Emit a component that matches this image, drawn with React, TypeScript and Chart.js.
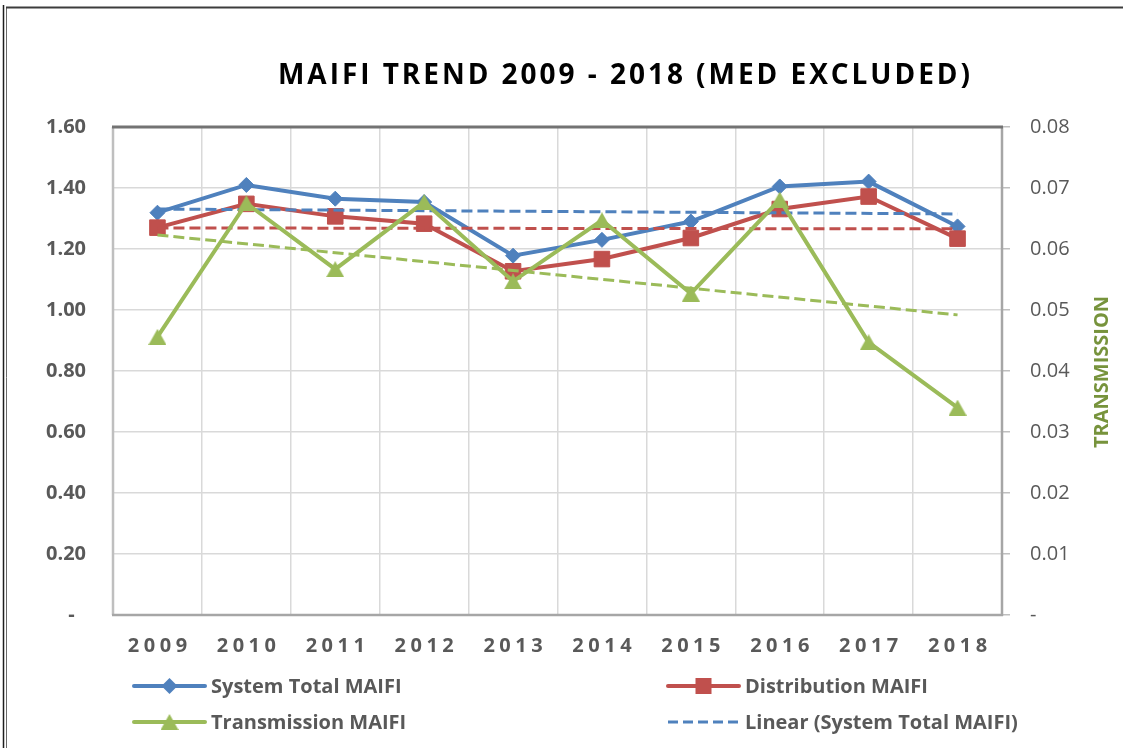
import React, { useEffect, useRef } from 'react';
import { Chart, registerables } from 'chart.js';

Chart.register(...registerables);

// ---------- data ----------
const years = ['2009', '2010', '2011', '2012', '2013', '2014', '2015', '2016', '2017', '2018'];
const systemTotalMaifi = [1.319, 1.41, 1.365, 1.354, 1.178, 1.23, 1.29, 1.405, 1.421, 1.274];
const distributionMaifi = [1.27, 1.348, 1.307, 1.283, 1.127, 1.167, 1.236, 1.331, 1.372, 1.234];
const transmissionMaifi = [0.0456, 0.0675, 0.0567, 0.0677, 0.0547, 0.0647, 0.0527, 0.0681, 0.0447, 0.034];
// linear trend lines (end points)
const systemTotalTrend = [1.331, null, null, null, null, null, null, null, null, 1.315];
const distributionTrend = [1.269, null, null, null, null, null, null, null, null, 1.266];
const transmissionTrend = [0.0623, null, null, null, null, null, null, null, null, 0.0492];

const leftAxisMin = 0;
const leftAxisMax = 1.6;
const leftAxisStep = 0.2;
const rightAxisMin = 0;
const rightAxisMax = 0.08;
const rightAxisStep = 0.01;

const chartTitle = 'MAIFI TREND 2009 - 2018 (MED EXCLUDED)';
const rightAxisTitle = 'TRANSMISSION';
const legendLabels = ['System Total MAIFI', 'Distribution MAIFI', 'Transmission MAIFI', 'Linear (System Total MAIFI)'];

// ---------- styles ----------
const BLUE = '#4F81BD';
const RED = '#C0504D';
const GREEN = '#9BBB59';
const GREEN_DARK = '#77933C';
const TEXT = '#595959';
const GRID = '#d9d9d9';
const FONT = '"Open Sans", Lato, "DejaVu Sans", sans-serif';

const W = 1123;
const H = 748;
const X_LABEL_SPACING = 4.5;

function makeTriangle(color: string, w: number, h: number) {
  const c = document.createElement('canvas');
  c.width = w;
  c.height = h;
  const g = c.getContext('2d')!;
  g.fillStyle = color;
  g.beginPath();
  g.moveTo(w / 2, 0);
  g.lineTo(w, h);
  g.lineTo(0, h);
  g.closePath();
  g.fill();
  return c;
}

export default function App() {
  const ref = useRef<HTMLCanvasElement | null>(null);

  useEffect(() => {
    const canvas = ref.current!;
    const tri = makeTriangle(GREEN, 18, 16);

    const decor = {
      id: 'decor',
      beforeDraw(chart: any) {
        const ctx = chart.ctx as CanvasRenderingContext2D;
        ctx.save();
        ctx.fillStyle = '#ffffff';
        ctx.fillRect(0, 0, chart.width, chart.height);
        // outer frame
        ctx.strokeStyle = '#1e1e1e';
        ctx.lineWidth = 1.5;
        ctx.beginPath();
        ctx.moveTo(3.5, 5);
        ctx.lineTo(3.5, chart.height);
        ctx.stroke();
        ctx.strokeStyle = '#6a6a6a';
        ctx.lineWidth = 1;
        ctx.beginPath();
        ctx.moveTo(6.5, chart.height);
        ctx.lineTo(6.5, 7);
        ctx.stroke();
        ctx.strokeStyle = '#3c3c3c';
        ctx.lineWidth = 2;
        ctx.beginPath();
        ctx.moveTo(6, 7.5);
        ctx.lineTo(chart.width, 7.5);
        ctx.stroke();
        ctx.restore();

        // letter-spaced category labels
        const xs = chart.scales.x as any;
        if (xs && !xs.__spaced) {
          const orig = xs.drawLabels.bind(xs);
          xs.drawLabels = (area: any) => {
            const c = chart.ctx as any;
            c.save();
            c.letterSpacing = `${X_LABEL_SPACING}px`;
            orig(area);
            c.restore();
          };
          xs.__spaced = true;
        }
      },
      beforeDatasetsDraw(chart: any) {
        const ctx = chart.ctx as CanvasRenderingContext2D;
        const a = chart.chartArea;
        ctx.save();
        ctx.lineWidth = 2.5;
        ctx.strokeStyle = '#bfbfbf';
        ctx.beginPath();
        ctx.moveTo(a.left, a.top);
        ctx.lineTo(a.left, a.bottom);
        ctx.stroke();
        ctx.strokeStyle = '#a6a6a6';
        ctx.beginPath();
        ctx.moveTo(a.right, a.top);
        ctx.lineTo(a.right, a.bottom + 1);
        ctx.stroke();
        ctx.beginPath();
        ctx.moveTo(a.left - 1, a.bottom);
        ctx.lineTo(a.right + 1, a.bottom);
        ctx.stroke();
        ctx.strokeStyle = '#737373';
        ctx.lineWidth = 3;
        ctx.beginPath();
        ctx.moveTo(a.left - 1, a.top);
        ctx.lineTo(a.right + 1, a.top);
        ctx.stroke();
        ctx.restore();
      },
      afterDraw(chart: any) {
        const ctx = chart.ctx as any;
        ctx.save();
        // title with letter spacing fitted to its width in the picture
        ctx.font = `bold 28px ${FONT}`;
        ctx.fillStyle = '#000000';
        ctx.textAlign = 'left';
        ctx.textBaseline = 'alphabetic';
        ctx.letterSpacing = '0px';
        const natural = ctx.measureText(chartTitle).width;
        const ls = (692 - natural) / (chartTitle.length - 1);
        ctx.letterSpacing = `${ls}px`;
        ctx.fillText(chartTitle, 278, 84);
        ctx.letterSpacing = '0px';

        // right axis title
        ctx.save();
        ctx.translate(1108, 372);
        ctx.rotate(-Math.PI / 2);
        ctx.font = `bold 20px ${FONT}`;
        ctx.fillStyle = GREEN_DARK;
        ctx.textAlign = 'center';
        ctx.fillText(rightAxisTitle, 0, 0);
        ctx.restore();

        // legend
        const items = [
          { color: BLUE, marker: 'diamond', dash: false, x: 134, y: 686 },
          { color: RED, marker: 'square', dash: false, x: 668, y: 686 },
          { color: GREEN, marker: 'triangle', dash: false, x: 134, y: 722 },
          { color: BLUE, marker: 'none', dash: true, x: 668, y: 722 },
        ];
        items.forEach((it, i) => {
          const x1 = it.x;
          const x2 = it.x + 71;
          ctx.save();
          ctx.strokeStyle = it.color;
          ctx.lineWidth = it.dash ? 3 : 4;
          ctx.lineCap = it.dash ? 'butt' : 'round';
          if (it.dash) ctx.setLineDash([10, 5]);
          ctx.beginPath();
          ctx.moveTo(x1, it.y);
          ctx.lineTo(x2, it.y);
          ctx.stroke();
          ctx.restore();
          const cx = (x1 + x2) / 2;
          ctx.fillStyle = it.color;
          if (it.marker === 'diamond') {
            ctx.beginPath();
            ctx.moveTo(cx - 8, it.y);
            ctx.lineTo(cx, it.y - 8);
            ctx.lineTo(cx + 8, it.y);
            ctx.lineTo(cx, it.y + 8);
            ctx.closePath();
            ctx.fill();
          } else if (it.marker === 'square') {
            ctx.fillRect(cx - 8, it.y - 8, 16, 16);
          } else if (it.marker === 'triangle') {
            ctx.drawImage(tri, cx - tri.width / 2, it.y - tri.height / 2);
          }
          ctx.font = `bold 20px ${FONT}`;
          ctx.fillStyle = TEXT;
          ctx.textAlign = 'left';
          ctx.textBaseline = 'alphabetic';
          ctx.fillText(legendLabels[i], x2 + 6, it.y + 7);
        });
        ctx.restore();
      },
    };

    const chart = new Chart(canvas, {
      type: 'line',
      data: {
        labels: years,
        datasets: [
          {
            label: legendLabels[0],
            data: systemTotalMaifi,
            yAxisID: 'y',
            borderColor: BLUE,
            backgroundColor: BLUE,
            borderWidth: 4,
            pointStyle: 'rectRot',
            pointRadius: 7.5,
            pointBorderWidth: 1,
            pointBackgroundColor: BLUE,
            pointBorderColor: BLUE,
            order: 5,
          },
          {
            label: legendLabels[1],
            data: distributionMaifi,
            yAxisID: 'y',
            borderColor: RED,
            backgroundColor: RED,
            borderWidth: 4,
            pointStyle: 'rect',
            pointRadius: 11,
            pointBorderWidth: 1,
            pointBackgroundColor: RED,
            pointBorderColor: RED,
            order: 4,
          },
          {
            label: legendLabels[2],
            data: transmissionMaifi,
            yAxisID: 'y1',
            borderColor: GREEN,
            backgroundColor: GREEN,
            borderWidth: 4,
            pointStyle: tri as any,
            pointRadius: 9,
            order: 1,
          },
          {
            label: legendLabels[3],
            data: systemTotalTrend,
            yAxisID: 'y',
            borderColor: BLUE,
            borderWidth: 3,
            borderDash: [11, 5],
            pointRadius: 0,
            spanGaps: true,
            order: 2,
          },
          {
            label: 'Linear (Distribution MAIFI)',
            data: distributionTrend,
            yAxisID: 'y',
            borderColor: RED,
            borderWidth: 3,
            borderDash: [11, 5],
            pointRadius: 0,
            spanGaps: true,
            order: 3,
          },
          {
            label: 'Linear (Transmission MAIFI)',
            data: transmissionTrend,
            yAxisID: 'y1',
            borderColor: GREEN,
            borderWidth: 3,
            borderDash: [11, 5],
            pointRadius: 0,
            spanGaps: true,
            order: 0,
          },
        ],
      },
      options: {
        responsive: false,
        animation: false,
        devicePixelRatio: 1,
        layout: { padding: { top: 127, left: 0, right: 0, bottom: 0 } },
        plugins: {
          legend: { display: false },
          title: { display: false },
          tooltip: { enabled: false },
        },
        elements: { line: { tension: 0 } },
        scales: {
          x: {
            type: 'category',
            offset: true,
            grid: { offset: true, color: GRID, lineWidth: 1.5, drawTicks: false },
            border: { display: false },
            ticks: {
              color: TEXT,
              font: { family: FONT, size: 20, weight: 'bold' },
              padding: 19,
              maxRotation: 0,
              autoSkip: false,
              labelOffset: X_LABEL_SPACING / 2,
            },
            afterFit: (s: any) => {
              s.height = H - 615;
            },
          },
          y: {
            position: 'left',
            min: leftAxisMin,
            max: leftAxisMax,
            ticks: {
              stepSize: leftAxisStep,
              color: TEXT,
              font: { family: FONT, size: 20, weight: 'bold' },
              padding: 27,
              callback: (v: any) => (Number(v) === 0 ? '-\u2007' : Number(v).toFixed(2)),
            },
            grid: { color: GRID, lineWidth: 1.5, drawTicks: false },
            border: { display: false },
            afterFit: (s: any) => {
              s.width = 113;
            },
          },
          y1: {
            position: 'right',
            min: rightAxisMin,
            max: rightAxisMax,
            ticks: {
              stepSize: rightAxisStep,
              color: TEXT,
              font: { family: FONT, size: 20, weight: 'normal' },
              padding: 20,
              callback: (v: any) => (Number(v) === 0 ? '-' : Number(v).toFixed(2)),
            },
            grid: { drawOnChartArea: false, color: '#bfbfbf', lineWidth: 1.5, tickLength: 8 },
            border: { display: false },
            afterFit: (s: any) => {
              s.width = W - 1002;
            },
          },
        },
      } as any,
      plugins: [decor],
    });
    chart.draw();

    return () => {
      chart.destroy();
    };
  }, []);

  return (
    <div style={{ position: 'fixed', left: 0, top: 0, width: W, height: H, background: '#fff' }}>
      <canvas ref={ref} width={W} height={H} style={{ width: W, height: H, display: 'block' }} />
    </div>
  );
}
